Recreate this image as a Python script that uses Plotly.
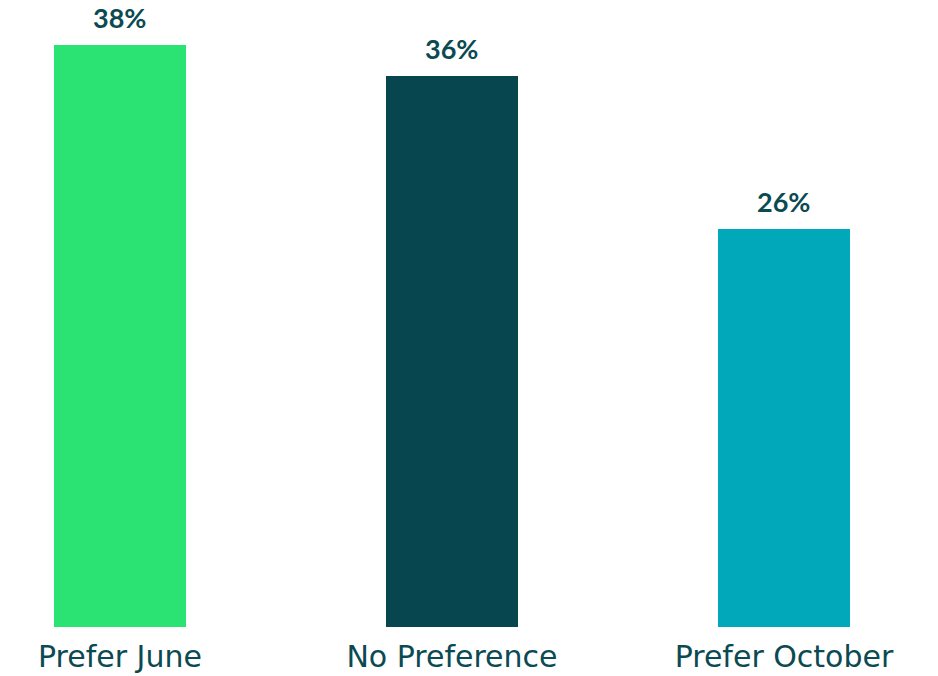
import plotly.graph_objects as go

categories = ["Prefer June", "No Preference", "Prefer October"]
shares = [38, 36, 26]
bar_colors = ["#2AE372", "#07464F", "#00A8BA"]

label_color = "#0B4A52"
positions = list(range(len(categories)))

fig = go.Figure(
    go.Bar(
        x=positions,
        y=shares,
        width=0.395,
        marker=dict(color=bar_colors, line=dict(width=0)),
        hoverinfo="skip",
    )
)

for xi, v in zip(positions, shares):
    fig.add_annotation(
        x=xi, y=v, text=f"<b>{v}%</b>", showarrow=False,
        yanchor="bottom", yshift=9,
        font=dict(family="Lato", size=27, color=label_color),
    )

fig.update_layout(
    width=938, height=676,
    margin=dict(l=0, r=0, t=0, b=49),
    paper_bgcolor="white", plot_bgcolor="white",
    showlegend=False,
    bargap=0,
)
fig.update_xaxes(
    range=[-0.3614, 2.4639],
    tickmode="array", tickvals=positions, ticktext=categories,
    tickfont=dict(family="DejaVu Sans", size=30, color=label_color),
    showgrid=False, zeroline=False, showline=False, ticks="",
    ticklabelstandoff=9, automargin=False,
)
fig.update_yaxes(range=[0, 40.93], visible=False, showgrid=False,
                 zeroline=False, automargin=False)

fig.write_html("out.html")
